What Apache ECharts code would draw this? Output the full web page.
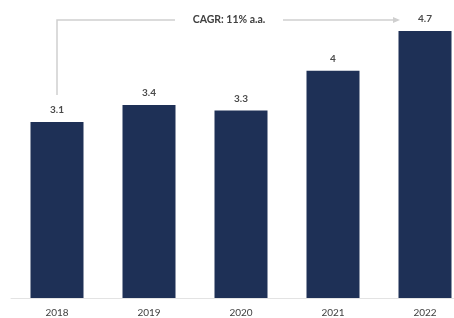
<!DOCTYPE html>
<html>
<head>
<meta charset="utf-8">
<script src="https://cdn.jsdelivr.net/npm/echarts@6/dist/echarts.min.js"></script>
<style>
  html, body { margin: 0; padding: 0; background: #fff; }
  #main { width: 454px; height: 318px; }
</style>
</head>
<body>
<div id="main"></div>
<script>
var years = ['2018', '2019', '2020', '2021', '2022'];
var values = [3.1, 3.4, 3.3, 4, 4.7];
var cagrText = 'CAGR: 11% a.a.';

var chart = echarts.init(document.getElementById('main'));

chart.setOption({
    animation: false,
    grid: { left: 11, top: 14, width: 460, height: 284, outerBoundsMode: 'none', containLabel: false },
    xAxis: {
        type: 'category',
        data: years,
        axisLine: { lineStyle: { color: '#e3e3e3', width: 1 } },
        axisTick: { show: false },
        axisLabel: { color: '#404040', fontSize: 10, fontFamily: 'Lato', margin: 10 }
    },
    yAxis: {
        type: 'value',
        min: 0,
        max: 5,
        show: false,
        splitLine: { show: false }
    },
    series: [{
        type: 'bar',
        data: values,
        barWidth: 53,
        itemStyle: { color: '#1e3056' },
        label: {
            show: true,
            position: 'top',
            distance: 7,
            color: '#4a4a4a',
            fontSize: 10,
            fontWeight: 'bold',
            fontFamily: 'Lato'
        }
    }]
});

// CAGR bracket, positioned from the axis scales
var p0 = chart.convertToPixel({ seriesIndex: 0 }, [0, values[0]]);
var p4 = chart.convertToPixel({ seriesIndex: 0 }, [4, values[4]]);
var topY = 20;
var midX = (p0[0] + p4[0]) / 2 - 12;
chart.setOption({
    graphic: [
        {
            type: 'polyline',
            shape: { points: [[p0[0], p0[1] - 27], [p0[0], topY], [midX - 54, topY]] },
            style: { stroke: '#cfcfcf', lineWidth: 1.5, fill: null }
        },
        {
            type: 'line',
            shape: { x1: midX + 54, y1: topY, x2: p4[0] - 32, y2: topY },
            style: { stroke: '#cfcfcf', lineWidth: 1.5 }
        },
        {
            type: 'polygon',
            shape: { points: [[p4[0] - 32, topY - 3], [p4[0] - 25, topY], [p4[0] - 32, topY + 3]] },
            style: { fill: '#cfcfcf' }
        },
        {
            type: 'text',
            x: midX,
            y: topY,
            style: {
                text: cagrText,
                align: 'center',
                verticalAlign: 'middle',
                fill: '#404040',
                fontSize: 10.5,
                fontWeight: 'bold',
                fontFamily: 'Lato'
            }
        }
    ]
});
</script>
</body>
</html>
